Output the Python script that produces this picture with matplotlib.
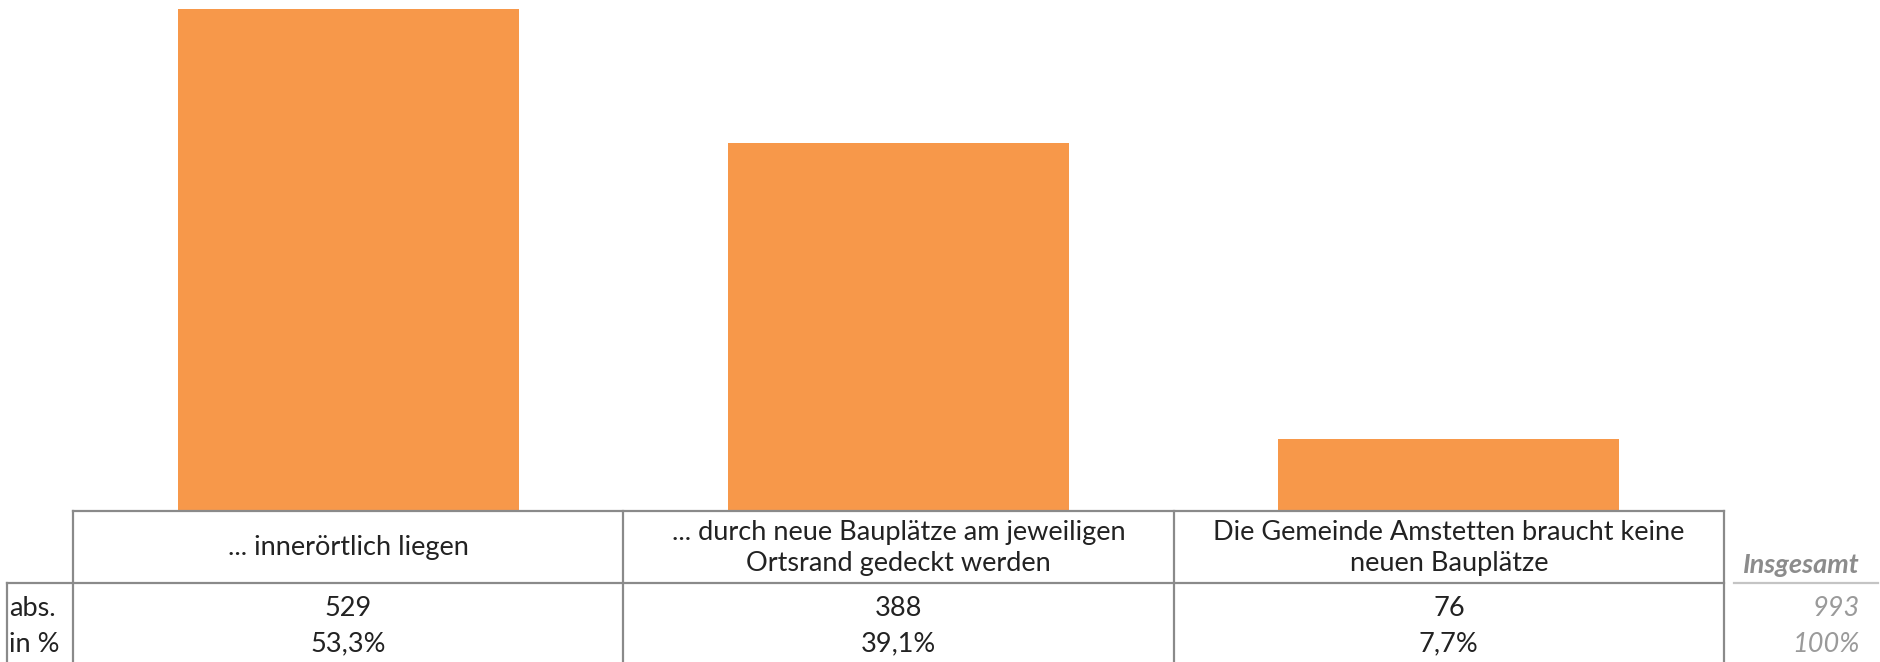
import matplotlib.pyplot as plt
from matplotlib.lines import Line2D

# data
categories = ["... innerörtlich liegen",
              "... durch neue Bauplätze am jeweiligen\nOrtsrand gedeckt werden",
              "Die Gemeinde Amstetten braucht keine\nneuen Bauplätze"]
abs_values = [529, 388, 76]
pct_labels = ["53,3%", "39,1%", "7,7%"]
row_labels = ["abs.", "in %"]
total_label = "Insgesamt"
total_abs = "993"
total_pct = "100%"

bar_color = "#F7984A"
line_color = "#8a8a8a"
grey_text = "#9a9a9a"
text_color = "#222222"

plt.rcParams['font.family'] = ['Lato', 'DejaVu Sans']

W, H = 1881, 662
fig = plt.figure(figsize=(W / 100, H / 100), dpi=100)

# column area in pixels
x0, x1 = 73, 1724
y_base = 511
ax = fig.add_axes([x0 / W, (H - y_base) / H, (x1 - x0) / W, y_base / H])
xs = [i + 0.5 for i in range(len(categories))]
ax.bar(xs, abs_values, width=0.62, color=bar_color)
ax.set_xlim(0, len(categories))
ax.set_ylim(0, 539)
ax.axis("off")

# table axes below, y in pixel units from the table top
tab_h = H - y_base
tax = fig.add_axes([x0 / W, 0, (x1 - x0) / W, tab_h / H])
tax.set_xlim(0, len(categories))
tax.set_ylim(tab_h, 0)
tax.axis("off")

px = (x1 - x0) / len(categories)  # pixels per column unit
def cx(p):
    return (p - x0) / px

head_bot = 72
row_y = [97, 133]
lw = 1.6
n = len(categories)

kw = dict(color=line_color, lw=lw, clip_on=False)
tax.add_line(Line2D([0, n], [0, 0], **kw))
tax.add_line(Line2D([cx(7), n], [head_bot, head_bot], **kw))
tax.add_line(Line2D([cx(7), cx(7)], [head_bot, tab_h], **kw))
for i in range(n + 1):
    tax.add_line(Line2D([i, i], [0, tab_h], **kw))
tax.add_line(Line2D([cx(1734), cx(1878)], [head_bot, head_bot],
                    color="#c4c4c4", lw=lw, clip_on=False))

fs = 19.5
for i, cat in enumerate(categories):
    tax.text(i + 0.5, head_bot / 2 + 1, cat, ha="center", va="center",
             fontsize=fs, color=text_color, linespacing=1.32)
    tax.text(i + 0.5, row_y[0], str(abs_values[i]), ha="center", va="center",
             fontsize=fs, color=text_color)
    tax.text(i + 0.5, row_y[1], pct_labels[i], ha="center", va="center",
             fontsize=fs, color=text_color)

for r, lab in zip(row_y, row_labels):
    tax.text(cx(9), r, lab, ha="left", va="center", fontsize=fs,
             color=text_color, clip_on=False)

tax.text(cx(1860), 54, total_label, ha="right", va="center", fontsize=fs,
         color="#8c8c8c", style="italic", fontweight="bold", clip_on=False)
tax.text(cx(1860), row_y[0], total_abs, ha="right", va="center", fontsize=fs,
         color=grey_text, style="italic", clip_on=False)
tax.text(cx(1860), row_y[1], total_pct, ha="right", va="center", fontsize=fs,
         color=grey_text, style="italic", clip_on=False)

fig.savefig("out.png", dpi=100)
